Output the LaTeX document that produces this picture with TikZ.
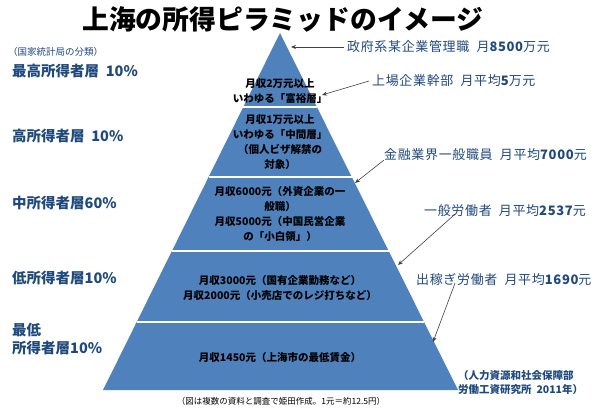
\documentclass[tikz,border=0pt]{standalone}
\usepackage{fontspec}
\setmainfont{Noto Sans CJK JP}
\usetikzlibrary{calc,arrows.meta}
\definecolor{pyrblue}{RGB}{79,129,189}
\definecolor{lblue}{RGB}{31,73,125}
\begin{document}
\begin{tikzpicture}[x=1pt,y=-1pt,every node/.style={inner sep=0pt,align=center}]
  \useasboundingbox (0,0) rectangle (600,409);
  \tikzset{layer/.style={font=\fontsize{14.5}{18}\selectfont\bfseries,text=lblue,anchor=west,align=left},
    note/.style={font=\fontsize{13}{16}\selectfont\addfontfeature{LetterSpace=5},text=lblue,anchor=west},
    inside/.style={font=\fontsize{10.5}{15}\selectfont\bfseries},
    ptr/.style={-{Stealth[length=5pt,width=4pt]},black!75,line width=0.6pt}}
  % title
  \node[font=\fontsize{26.8}{30}\selectfont\bfseries] (title) at (283,19) {上海の所得ピラミッドのイメージ};
  % pyramid
  \coordinate (apex) at (280,33);
  \coordinate (bl) at (103,390);
  \coordinate (br) at (458,390);
  \fill[pyrblue] (apex) -- (bl) -- (br) -- cycle;
  \foreach \t in {0.2073,0.4034,0.6106,0.8095}
    \draw[white,line width=2pt] ($(apex)!\t!(bl)$) -- ($(apex)!\t!(br)$);
  % texts in the bands
  \node[inside] (b1) at (280,91) {月収2万元以上\\いわゆる「富裕層」};
  \node[inside] (b2) at (280,142) {月収1万元以上\\いわゆる「中間層」\\（個人ビザ解禁の\\対象）};
  \node[inside] (b3) at (280,214) {月収6000元（外資企業の一\\般職）\\月収5000元（中国民営企業\\の「小白領」）};
  \node[inside] (b4) at (280,288) {月収3000元（国有企業勤務など）\\月収2000元（小売店でのレジ打ちなど）};
  \node[inside] (b5) at (280,358) {月収1450元（上海市の最低賃金）};
  % left side
  \node[font=\fontsize{9.5}{11}\selectfont,text=lblue,anchor=west] (src) at (8,52) {（国家統計局の分類）};
  \node[layer] (l1) at (12,71) {最高所得者層\ \ 10\%};
  \node[layer] (l2) at (12,136) {高所得者層\ \ 10\%};
  \node[layer] (l3) at (12,203) {中所得者層60\%};
  \node[layer] (l4) at (12,278) {低所得者層10\%};
  \node[layer] (l5) at (12,339) {最低\\所得者層10\%};
  % right side
  \node[note] (r1) at (347,47) {政府系某企業管理職\ \ 月{\bfseries 8500}万元};
  \node[note] (r2) at (372,81) {上場企業幹部\ \ 月平均{\bfseries 5}万元};
  \node[note] (r3) at (384,155) {金融業界一般職員\ \ 月平均{\bfseries 7000}元};
  \node[note] (r4) at (424,211) {一般労働者\ \ 月平均{\bfseries 2537}元};
  \node[note] (r5) at (416,280) {出稼ぎ労働者\ \ 月平均{\bfseries 1690}元};
  \node[font=\fontsize{10.5}{14}\selectfont\bfseries,text=lblue,anchor=west,align=left] (r6) at (458,383) {（人力資源和社会保障部\\労働工資研究所\ \ 2011年）};
  \node[font=\fontsize{8.5}{10}\selectfont] (foot) at (281,401) {（図は複数の資料と調査で姫田作成。1元＝約12.5円）};
  % arrows
  \coordinate (t1) at (291,47);
  \coordinate (t2) at (322,95);
  \coordinate (t3) at (355,183);
  \coordinate (t4) at (398,265);
  \coordinate (t5) at (433,342);
  \draw[ptr] ([xshift=-3pt]r1.west) -- (t1);
  \draw[ptr] ([xshift=-3pt]r2.west) -- (t2);
  \draw[ptr] ([shift={(0,5)}]r3.west) -- (t3);
  \draw[ptr] ([xshift=31pt,yshift=3pt]r4.south west) -- (t4);
  \draw[ptr] ([xshift=39pt,yshift=3pt]r5.south west) -- (t5);
\end{tikzpicture}
\end{document}
